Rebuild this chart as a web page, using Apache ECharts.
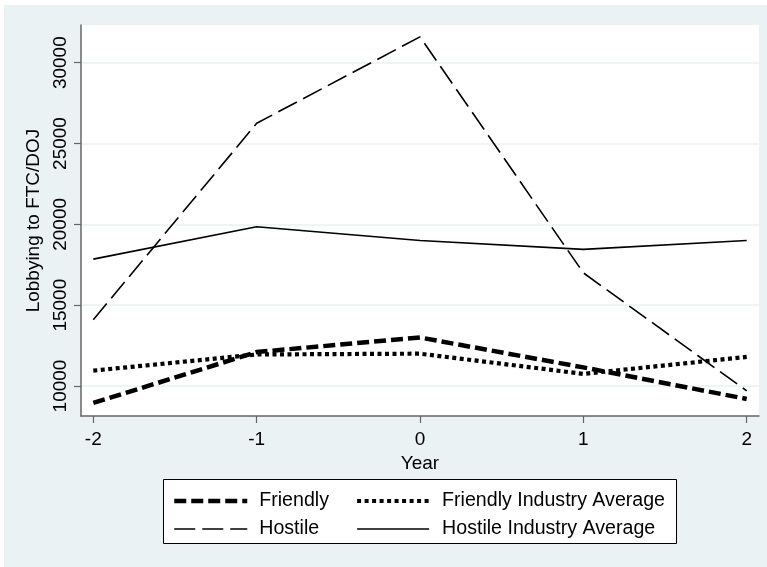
<!DOCTYPE html>
<html>
<head>
<meta charset="utf-8">
<script src="https://cdn.jsdelivr.net/npm/echarts@6/dist/echarts.min.js"></script>
<style>
html,body{margin:0;padding:0;background:#fff;}
#chart{width:767px;height:567px;}
</style>
</head>
<body>
<div id="chart"></div>
<script>
const years = [-2, -1, 0, 1, 2];
const friendly = [8950, 12100, 13000, 11150, 9200];
const friendlyAvg = [10950, 11950, 12000, 10750, 11800];
const hostile = [14100, 26250, 31600, 17000, 9700];
const hostileAvg = [17850, 19850, 19000, 18450, 19000];
const xTicks = [-2, -1, 0, 1, 2];
const yTicks = [10000, 15000, 20000, 25000, 30000];
const seriesNames = ['Friendly', 'Friendly Industry Average', 'Hostile', 'Hostile Industry Average'];

const pairs = (vals) => years.map((x, i) => [x, vals[i]]);
const FONT = 'Liberation Sans, Arial, sans-serif';
const chart = echarts.init(document.getElementById('chart'), null, {renderer: 'canvas'});

const styles = {
  'Friendly': {color: '#000', width: 4.5, type: [12, 5], cap: 'butt'},
  'Friendly Industry Average': {color: '#000', width: 4.2, type: [4, 3.5], cap: 'butt'},
  'Hostile': {color: '#000', width: 1.6, type: [21, 7], cap: 'butt'},
  'Hostile Industry Average': {color: '#000', width: 1.6, type: 'solid'}
};
const legendItem = (name) => ({
  name: name,
  itemStyle: {opacity: 0, color: 'transparent', borderWidth: 0},
  lineStyle: Object.assign({}, styles[name])
});

const option = {
  backgroundColor: '#ffffff',
  animation: false,
  graphic: [
    {type: 'rect', z: -10, shape: {x: 4, y: 5, width: 763, height: 562}, style: {fill: '#eaf2f3'}},
    {type: 'rect', z: 1, shape: {x: 163.5, y: 479.5, width: 513, height: 64}, style: {fill: '#ffffff', stroke: '#000', lineWidth: 1}}
  ],
  grid: {left: 81, right: 8, top: 25, bottom: 151, show: true, backgroundColor: '#ffffff', borderWidth: 0, containLabel: false},
  xAxis: {
    type: 'value', min: -2.0753, max: 2.0753,
    name: 'Year', nameLocation: 'middle', nameGap: 33,
    nameTextStyle: {fontFamily: FONT, fontSize: 19, color: '#000'},
    axisLine: {show: true, onZero: false, lineStyle: {color: '#666', width: 1.5}},
    axisTick: {show: true, length: 7, lineStyle: {color: '#666', width: 1.2}, customValues: xTicks},
    axisLabel: {customValues: xTicks, fontFamily: FONT, fontSize: 19, color: '#000', margin: 14},
    splitLine: {show: false}
  },
  yAxis: {
    type: 'value', min: 8144, max: 32332,
    name: 'Lobbying to FTC/DOJ', nameLocation: 'middle', nameGap: 30, nameRotate: 90,
    nameTextStyle: {fontFamily: FONT, fontSize: 19, color: '#000'},
    axisLine: {show: true, onZero: false, lineStyle: {color: '#666', width: 1.5}},
    axisTick: {show: true, length: 7, lineStyle: {color: '#666', width: 1.2}, customValues: yTicks},
    axisLabel: {customValues: yTicks, rotate: 90, fontFamily: FONT, fontSize: 19, color: '#000', margin: 11,
      formatter: (v) => String(Math.round(v))},
    splitLine: {show: true, lineStyle: {color: '#eaf2f3', width: 1.5}}
  },
  legend: [
    {
      data: [legendItem(seriesNames[0]), legendItem(seriesNames[2])], orient: 'vertical', left: 172, top: 491, padding: 0,
      itemWidth: 73, itemHeight: 14, itemGap: 8, z: 10,
      textStyle: {fontFamily: FONT, fontSize: 19.6, color: '#000', padding: [0, 0, 0, 7]}
    },
    {
      data: [legendItem(seriesNames[1]), legendItem(seriesNames[3])], orient: 'vertical', left: 355, top: 491, padding: 0,
      itemWidth: 72, itemHeight: 14, itemGap: 8, z: 10,
      textStyle: {fontFamily: FONT, fontSize: 19.6, color: '#000', padding: [0, 0, 0, 8]}
    }
  ],
  series: [
    {name: seriesNames[3], type: 'line', data: pairs(hostileAvg), showSymbol: false, symbol: 'none',
      lineStyle: styles[seriesNames[3]], itemStyle: {color: '#000'}},
    {name: seriesNames[2], type: 'line', data: pairs(hostile), showSymbol: false, symbol: 'none',
      lineStyle: styles[seriesNames[2]], itemStyle: {color: '#000'}},
    {name: seriesNames[1], type: 'line', data: pairs(friendlyAvg), showSymbol: false, symbol: 'none',
      lineStyle: styles[seriesNames[1]], itemStyle: {color: '#000'}},
    {name: seriesNames[0], type: 'line', data: pairs(friendly), showSymbol: false, symbol: 'none',
      lineStyle: styles[seriesNames[0]], itemStyle: {color: '#000'}}
  ]
};
chart.setOption(option);
</script>
</body>
</html>
